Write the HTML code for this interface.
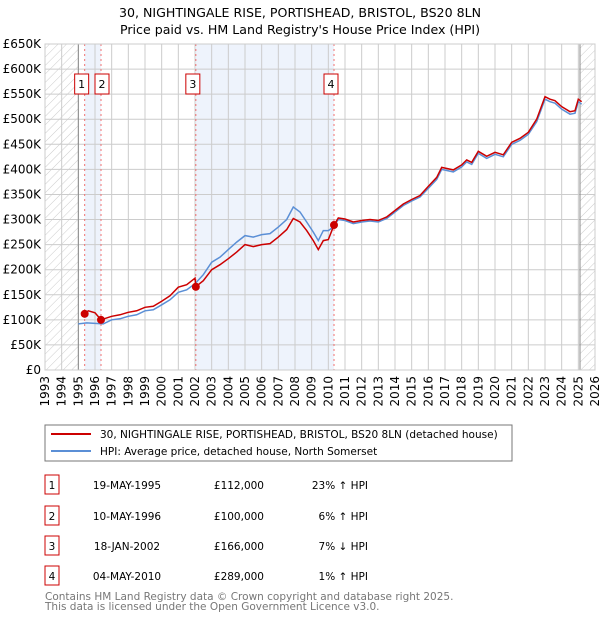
<!DOCTYPE html>
<html><head><meta charset="utf-8">
<style>
body{margin:0;background:#fff;font-family:"DejaVu Sans","Liberation Sans",sans-serif;}
svg text{font-family:"DejaVu Sans","Liberation Sans",sans-serif;}
</style></head>
<body>
<svg id="chart" width="600" height="620" xmlns="http://www.w3.org/2000/svg">
<defs>
<pattern id="hatch" patternUnits="userSpaceOnUse" width="6" height="6" patternTransform="rotate(45)">
<line x1="0" y1="0" x2="0" y2="6" stroke="#ccc" stroke-width="1"/>
</pattern>
</defs>
<text x="300" y="17" text-anchor="middle" font-size="12.6">30, NIGHTINGALE RISE, PORTISHEAD, BRISTOL, BS20 8LN</text>
<text x="300" y="34" text-anchor="middle" font-size="12.6">Price paid vs. HM Land Registry's House Price Index (HPI)</text>
<g id="plot"></g>
<g>
<rect x="45" y="425" width="467" height="36" fill="#fff" stroke="#777"/>
<line x1="51" y1="434" x2="91" y2="434" stroke="#cc0000" stroke-width="2"/>
<text x="100" y="438" font-size="10.5">30, NIGHTINGALE RISE, PORTISHEAD, BRISTOL, BS20 8LN (detached house)</text>
<line x1="51" y1="451" x2="91" y2="451" stroke="#5b8fd6" stroke-width="2"/>
<text x="100" y="455" font-size="10.5">HPI: Average price, detached house, North Somerset</text>
</g>
<g id="table" font-size="10.5"></g>
<text x="45" y="600" font-size="10.5" fill="#777">Contains HM Land Registry data © Crown copyright and database right 2025.</text>
<text x="45" y="610" font-size="10.5" fill="#777">This data is licensed under the Open Government Licence v3.0.</text>
</svg>
<script>
const hpiYears=[1995.0,1995.5,1996.0,1996.5,1997,1997.5,1998,1998.5,1999,1999.5,2000,2000.5,2001,2001.5,2002,2002.5,2003,2003.5,2004,2004.5,2005,2005.5,2006,2006.5,2007,2007.5,2007.9,2008.3,2008.7,2009.1,2009.4,2009.7,2010,2010.3,2010.6,2011,2011.5,2012,2012.5,2013,2013.5,2014,2014.5,2015,2015.5,2016,2016.5,2016.8,2017.5,2018,2018.3,2018.6,2019,2019.5,2020,2020.5,2021,2021.5,2022,2022.5,2023,2023.3,2023.6,2024,2024.5,2024.8,2025,2025.2];
const hpiValues=[92,94,93,92,100,102,107,110,118,120,130,140,155,160,172,190,215,225,240,255,268,265,270,272,285,300,325,315,295,275,258,278,278,285,300,298,292,295,297,295,302,315,328,337,345,362,380,400,395,405,415,410,432,422,430,425,450,458,470,495,540,535,532,520,510,512,535,530];
const ppYears=[1995.38,1995.6,1996.0,1996.36,1997,1997.5,1998,1998.5,1999,1999.5,2000,2000.5,2001,2001.5,2002.0,2002.05,2002.5,2003,2003.5,2004,2004.5,2005,2005.5,2006,2006.5,2007,2007.5,2007.9,2008.3,2008.7,2009.1,2009.4,2009.7,2010,2010.34,2010.6,2011,2011.5,2012,2012.5,2013,2013.5,2014,2014.5,2015,2015.5,2016,2016.5,2016.8,2017.5,2018,2018.3,2018.6,2019,2019.5,2020,2020.5,2021,2021.5,2022,2022.5,2023,2023.3,2023.6,2024,2024.5,2024.8,2025,2025.2];
const ppValues=[112,118,114,100,107,110,115,118,125,127,137,148,165,170,183,166,178,200,210,222,235,250,246,250,252,265,280,302,295,278,258,240,258,260,289,303,301,295,298,300,298,305,318,331,340,348,366,384,404,399,409,419,414,436,426,434,429,454,462,474,500,545,540,537,525,515,517,540,535];
const saleYears=[1995.38,1996.36,2002.05,2010.34];
const saleValues=[112,100,166,289];
const saleLabels=["1","2","3","4"];
const saleDates=["19-MAY-1995","10-MAY-1996","18-JAN-2002","04-MAY-2010"];
const salePrices=["£112,000","£100,000","£166,000","£289,000"];
const saleDiffs=["23% ↑ HPI","6% ↑ HPI","7% ↓ HPI","1% ↑ HPI"];
const yTicks=[0,50,100,150,200,250,300,350,400,450,500,550,600,650];
const yTickLabels=["£0","£50K","£100K","£150K","£200K","£250K","£300K","£350K","£400K","£450K","£500K","£550K","£600K","£650K"];
const xTicks=[1993,1994,1995,1996,1997,1998,1999,2000,2001,2002,2003,2004,2005,2006,2007,2008,2009,2010,2011,2012,2013,2014,2015,2016,2017,2018,2019,2020,2021,2022,2023,2024,2025,2026];

const NS="http://www.w3.org/2000/svg";
const X0=45,X1=595,Y0=370,Y1=44;
const xs=y=>X0+(y-1993)/(2026-1993)*(X1-X0);
const ys=v=>Y0-v/650*(Y0-Y1);
const plot=document.getElementById('plot');
function mk(tag,attrs,parent){const e=document.createElementNS(NS,tag);for(const k in attrs)e.setAttribute(k,attrs[k]);(parent||plot).appendChild(e);return e;}

let h1=mk('rect',{x:X0,y:Y1,width:xs(1995)-X0,height:Y0-Y1,fill:'url(#hatch)'});


let h2=mk('rect',{x:xs(2025.1),y:Y1,width:X1-xs(2025.1),height:Y0-Y1,fill:'url(#hatch)'});


let b1=mk('rect',{x:xs(saleYears[0]),y:Y1,width:xs(saleYears[1])-xs(saleYears[0]),height:Y0-Y1,fill:'#eef3fc'});


let b2=mk('rect',{x:xs(saleYears[2]),y:Y1,width:xs(saleYears[3])-xs(saleYears[2]),height:Y0-Y1,fill:'#eef3fc'});



xTicks.forEach((t,i)=>{
  let l=mk('line',{x1:xs(t),x2:xs(t),y1:Y1,y2:Y0,stroke:'#ccc','stroke-width':1});
  
  
  let tx=mk('text',{x:0,y:0,'font-size':12,'text-anchor':'end',transform:`translate(${xs(t)+4},${Y0+6}) rotate(-90)`});
  tx.textContent=t;
  
  
});
yTicks.forEach((t,i)=>{
  let l=mk('line',{x1:X0,x2:X1,y1:ys(t),y2:ys(t),stroke:'#ccc','stroke-width':1});
  
  
  let tx=mk('text',{x:X0-4,y:ys(t)+4,'font-size':12,'text-anchor':'end'});
  tx.textContent=yTickLabels[i];
  
  
});
let e1=mk('line',{x1:xs(1995),x2:xs(1995),y1:Y1,y2:Y0,stroke:'#888'});


let e2=mk('line',{x1:xs(2025.1),x2:xs(2025.1),y1:Y1,y2:Y0,stroke:'#888'});



saleYears.forEach((s,i)=>{
  let l=mk('line',{x1:xs(s),x2:xs(s),y1:Y1,y2:Y0,stroke:'#f07070','stroke-dasharray':'2,3'});
  
  
  const bx=i==0?xs(s)-10:(i==1?xs(s)-6:xs(s)-10);
  let r=mk('rect',{x:bx,y:74,width:14,height:20,fill:'#fff',stroke:'#cc0000'});
  
  
  let t=mk('text',{x:bx+7,y:88,'font-size':11,'text-anchor':'middle'});
  t.textContent=saleLabels[i];
  
  
});

function path(xa,va){return xa.map((y,i)=>(i?'L':'M')+xs(y).toFixed(1)+','+ys(va[i]).toFixed(1)).join('');}
let hp=mk('path',{d:path(hpiYears,hpiValues),fill:'none',stroke:'#5b8fd6','stroke-width':1.5});


let pp=mk('path',{d:path(ppYears,ppValues),fill:'none',stroke:'#cc0000','stroke-width':1.5});


saleYears.forEach((s,i)=>{
  let c=mk('circle',{cx:xs(s),cy:ys(saleValues[i]),r:4,fill:'#cc0000'});
  
  
});
let frame=mk('rect',{x:X0,y:Y1,width:X1-X0,height:Y0-Y1,fill:'none',stroke:'#ccc'});



const tb=document.getElementById('table');
[483,514,544,574].forEach((ry,i)=>{
  let r=mk('rect',{x:45,y:ry-8,width:14,height:19,fill:'#fff',stroke:'#cc0000'},tb);
  
  
  const cells=[[52,saleLabels[i],'middle'],[127,saleDates[i],'middle'],[264,salePrices[i],'end'],[368,saleDiffs[i],'end']];
  cells.forEach(c=>{
    let t=mk('text',{x:c[0],y:ry+6,'text-anchor':c[2]},tb);
    t.textContent=c[1];
    
    
  });
});
</script>
</body></html>
